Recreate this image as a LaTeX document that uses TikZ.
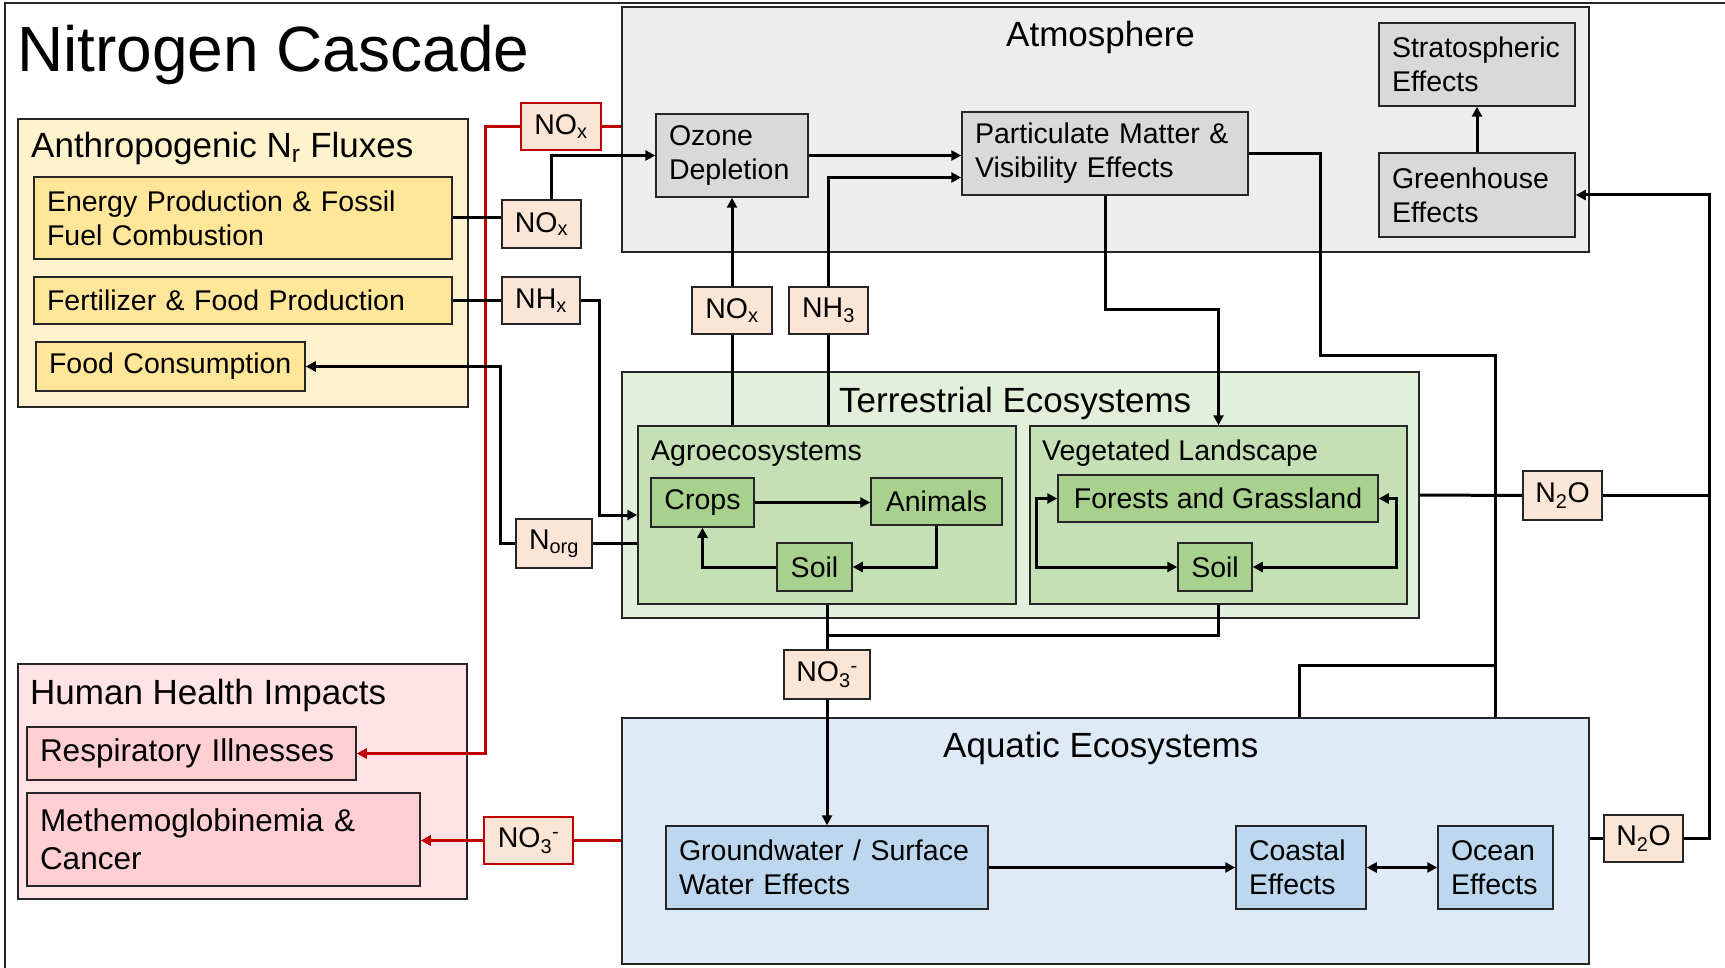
\documentclass[tikz,border=0pt]{standalone}
\usepackage{fontspec}
\setmainfont{Liberation Sans}
\usetikzlibrary{arrows.meta,calc}
\definecolor{bcol}{HTML}{262626}
\definecolor{atmF}{HTML}{EDEDED}
\definecolor{atmI}{HTML}{D9D9D9}
\definecolor{terF}{HTML}{E2EFDA}
\definecolor{terM}{HTML}{C5E0B4}
\definecolor{terI}{HTML}{A9D18E}
\definecolor{aquF}{HTML}{DEEBF7}
\definecolor{aquI}{HTML}{BDD7EE}
\definecolor{antF}{HTML}{FFF2CC}
\definecolor{antI}{HTML}{FFE699}
\definecolor{heaF}{HTML}{FFE3E7}
\definecolor{heaI}{HTML}{FFCFD4}
\definecolor{labc}{HTML}{FBE5D6}
\definecolor{redc}{HTML}{C00000}
\newcommand\bx[7]{%
  \pgfmathsetmacro\bxw{#5-#3}%
  \pgfmathsetmacro\bxh{#6-#4}%
  \pgfmathsetmacro\bxtw{#5-#3-26}%
  \pgfmathsetmacro\bxx{(#3+#5)/2}%
  \pgfmathsetmacro\bxy{(#4+#6)/2}%
  \node[#2, minimum width=\bxw pt, minimum height=\bxh pt] (#1) at (\bxx,\bxy) {#7};}
\newcommand\nothree{NO\textsubscript{3}\textsuperscript{-}}
\begin{document}
\begin{tikzpicture}[x=1pt,y=-1pt,
  box/.style={draw=bcol, line width=1.5pt, inner sep=0pt},
  lt/.style={align=left, text width=\bxtw pt, inner xsep=13pt, inner ysep=0pt, yshift=0pt},
  ct/.style={align=center},
  tx/.style={font=\fontsize{28.5}{34}\selectfont},
  ht/.style={font=\fontsize{31.5}{38}\selectfont},
  st/.style={font=\fontsize{35}{42}\selectfont, anchor=base west, inner sep=0pt},
  lab/.style={box, fill=labc, tx, align=center},
  rlab/.style={lab, draw=redc},
  con/.style={line width=3pt, draw=black},
  arr/.style={con, -{Triangle[length=10pt,width=10pt]}},
  darr/.style={con, {Triangle[length=10pt,width=10pt]}-{Triangle[length=10pt,width=10pt]}},
  rcon/.style={line width=3pt, draw=redc},
  rarr/.style={rcon, -{Triangle[length=10pt,width=10pt]}}
]
\useasboundingbox (0,0) rectangle (1725,968);
\fill[white] (0,0) rectangle (1725,968);
\draw[line width=2pt, bcol] (5,968) -- (5,3) -- (1725,3);

\node[anchor=base west, inner sep=0pt, font=\fontsize{64}{70}\selectfont] (title) at (17,72) {Nitrogen Cascade};

% section boxes
\bx{Anthro}{box, fill=antF}{18}{119}{468}{407}{}
\bx{Health}{box, fill=heaF}{18}{664}{467}{899}{}
\bx{Atmos}{box, fill=atmF}{622}{7}{1589}{252}{}
\bx{Terr}{box, fill=terF}{622}{372}{1419}{618}{}
\bx{Aquatic}{box, fill=aquF}{622}{718}{1589}{964}{}
\bx{Agro}{box, fill=terM}{638}{426}{1016}{604}{}
\bx{Veg}{box, fill=terM}{1030}{426}{1407}{604}{}

\node[st] (tAnthro) at (31,158) {Anthropogenic N\textsubscript{r} Fluxes};
\node[st] (tHealth) at (30,704) {Human Health Impacts};
\node[st] (tAtmos) at (1006,47) {Atmosphere};
\node[st] (tTerr) at (839,412) {Terrestrial Ecosystems};
\node[st] (tAqua) at (943,757) {Aquatic Ecosystems};
\node[tx, anchor=base west, inner sep=0pt] (tAgro) at (651,460) {Agroecosystems};
\node[tx, anchor=base west, inner sep=0pt] (tVeg) at (1042,460) {Vegetated Landscape};

% inner boxes
\bx{Energy}{box, fill=antI, tx, lt}{34}{177}{452}{259}{Energy Production \& Fossil\\Fuel Combustion}
\bx{Fert}{box, fill=antI, tx, lt}{34}{277}{452}{324}{Fertilizer \& Food Production}
\bx{FoodC}{box, fill=antI, tx, lt}{36}{342}{305}{391}{Food Consumption}
\bx{Resp}{box, fill=heaI, ht, lt}{27}{727}{356}{780}{Respiratory Illnesses}
\bx{Meth}{box, fill=heaI, ht, lt}{27}{793}{420}{886}{Methemoglobinemia \&\\Cancer}
\bx{Ozone}{box, fill=atmI, tx, lt}{656}{114}{808}{197}{Ozone\\Depletion}
\bx{PM}{box, fill=atmI, tx, lt}{962}{112}{1248}{195}{Particulate Matter \&\\Visibility Effects}
\bx{Strat}{box, fill=atmI, tx, lt}{1379}{23}{1575}{106}{Stratospheric\\Effects}
\bx{Green}{box, fill=atmI, tx, lt}{1379}{153}{1575}{237}{Greenhouse\\Effects}
\bx{Crops}{box, fill=terI, tx, ct}{651}{478}{754}{527}{Crops}
\bx{Animals}{box, fill=terI, tx, ct}{871}{478}{1002}{525}{Animals}
\bx{ASoil}{box, fill=terI, tx, ct}{777}{543}{852}{591}{Soil}
\bx{Forests}{box, fill=terI, tx, ct}{1058}{475}{1378}{522}{Forests and Grassland}
\bx{VSoil}{box, fill=terI, tx, ct}{1178}{543}{1252}{591}{Soil}
\bx{GW}{box, fill=aquI, tx, lt}{666}{826}{988}{909}{Groundwater / Surface\\Water Effects}
\bx{Coastal}{box, fill=aquI, tx, lt}{1236}{826}{1366}{909}{Coastal\\Effects}
\bx{Ocean}{box, fill=aquI, tx, lt}{1438}{826}{1553}{909}{Ocean\\Effects}

% labels
\bx{NOxR}{rlab}{521}{103}{601}{150}{NO\textsubscript{x}}
\bx{NOxA}{lab}{502}{200}{581}{248}{NO\textsubscript{x}}
\bx{NHx}{lab}{502}{277}{580}{324}{NH\textsubscript{x}}
\bx{Norg}{lab}{516}{519}{592}{568}{N\textsubscript{org}}
\bx{NOxB}{lab}{692}{287}{772}{334}{NO\textsubscript{x}}
\bx{NH3}{lab}{789}{287}{868}{334}{NH\textsubscript{3}}
\bx{N2OA}{lab}{1523}{471}{1602}{520}{N\textsubscript{2}O}
\bx{NO3A}{lab}{784}{650}{870}{699}{\nothree}
\bx{N2OB}{lab}{1604}{815}{1683}{862}{N\textsubscript{2}O}
\bx{NO3R}{rlab}{484}{817}{573}{864}{\nothree}

% red connectors
\draw[rcon] (NOxR.east) -- (NOxR.east -| Atmos.west);
\draw[rarr] (NOxR.west) -- ++(-35,0) |- (Resp.east);
\draw[rcon] (NO3R.east -| Aquatic.west) -- (NO3R.east);
\draw[rarr] (NO3R.west) -- (NO3R.west -| Meth.east);

% black connectors
\draw[con] (Energy.east) -- (Energy.east -| NOxA.west);
\draw[arr] ($(NOxA.north)+(10,0)$) |- (Ozone.west);
\draw[con] (Fert.east) -- (Fert.east -| NHx.west);
\draw[arr] (NHx.east) -- ++(19,0) |- (Agro.west);
\draw[arr] (Norg.west) -- ++(-15,0) |- (FoodC.east);
\draw[con] (Norg.east) -- (Norg.east -| Agro.west);
\draw[arr] (NOxB.north) -- (Ozone.south);
\draw[con] (NOxB.south) -- (NOxB.south |- Agro.north);
\draw[arr] (Ozone.east) -- (Ozone.east -| PM.west);
\coordinate (pmIn) at ($(PM.west)+(0,24)$);
\draw[arr] (NH3.north) |- (pmIn);
\draw[con] (NH3.south) -- (NH3.south |- Agro.north);
\draw[arr] (PM.south) -- ++(0,114) -| (Veg.north);
\coordinate (jA) at (1495,665);
\coordinate (jB) at (1299,665);
\draw[con] (PM.east) -| (1320,356) -| (jA |- Aquatic.north);
\draw[con] (jA) -| (jB |- Aquatic.north);
\draw[arr] (Green.north) -- (Strat.south);
\draw[con] (Terr.east) -- (N2OA.west);
\coordinate (jC) at ($(N2OA.east)+(107,0)$);
\draw[arr] (N2OA.east) -- (jC) |- (Green.east);
\draw[con] (N2OB.west -| Aquatic.east) -- (N2OB.west);
\draw[con] (N2OB.east) -| (jC);
\draw[con] (Agro.south) -- (NO3A.north);
\draw[con] (Veg.south) |- ($(Agro.south)+(0,31)$);
\draw[arr] (NO3A.south) -- (NO3A.south |- GW.north);
\draw[arr] (GW.east) -- (GW.east -| Coastal.west);
\draw[darr] (Coastal.east) -- (Coastal.east -| Ocean.west);
\draw[arr] (Crops.east) -- (Crops.east -| Animals.west);
\draw[arr] (Animals.south) |- (ASoil.east);
\draw[arr] (ASoil.west) -| (Crops.south);
\draw[darr] (Forests.west) -- ++(-21,0) |- (VSoil.west);
\draw[darr] (Forests.east) -- ++(18,0) |- (VSoil.east);
\end{tikzpicture}
\end{document}
